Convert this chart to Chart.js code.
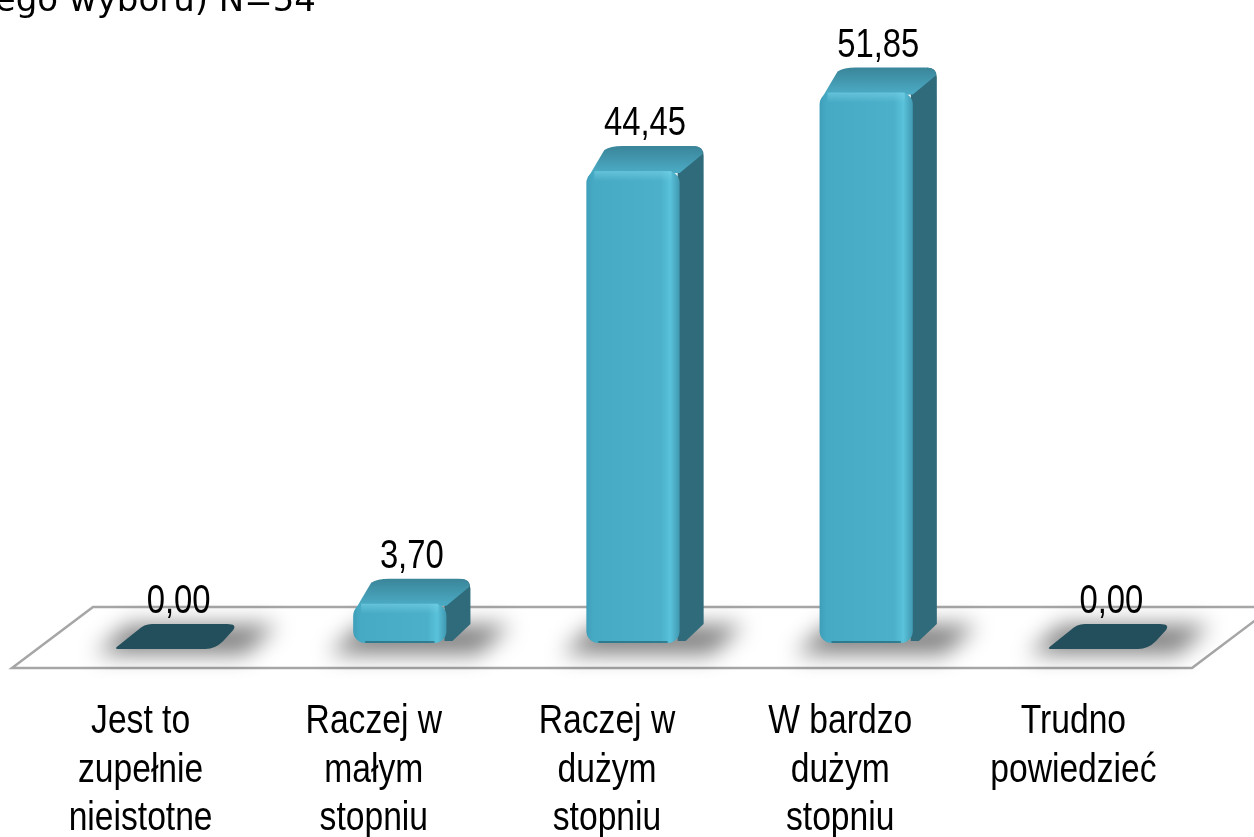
<!DOCTYPE html>
<html><head><meta charset="utf-8">
<script src="https://cdn.jsdelivr.net/npm/chart.js@4/dist/chart.umd.min.js"></script>
<style>html,body{margin:0;padding:0;background:#fff;overflow:hidden}#wrap{width:1254px;height:837px}</style>
</head><body><div id="wrap"><canvas id="c" width="1254" height="837"></canvas></div>
<script>
const categories = [["Jest to","zupełnie","nieistotne"],["Raczej w","małym","stopniu"],["Raczej w","dużym","stopniu"],["W bardzo","dużym","stopniu"],["Trudno","powiedzieć"]];
const values = [0.00, 3.70, 44.45, 51.85, 0.00];
const valueLabels = ["0,00","3,70","44,45","51,85","0,00"];
const titleFragment = "ego wyboru) N=54";
const axisMax = 60;

const FONT = "'Liberation Sans',Arial,sans-serif";
const NARROW_SCALE = 0.82;
const DX = 26, DDX = 24, DDY = -25;

function narrowText(ctx, text, x, y, size) {
  ctx.save();
  ctx.font = size + 'px ' + FONT;
  ctx.textAlign = 'center';
  ctx.textBaseline = 'alphabetic';
  ctx.translate(x, y);
  ctx.scale(NARROW_SCALE, 1);
  ctx.fillText(text, 0, 0);
  ctx.restore();
}

const bar3d = {
  id: 'bar3d',
  beforeDatasetsDraw(chart) {
    const ctx = chart.ctx, ca = chart.chartArea;
    const base = chart.scales.y.getPixelForValue(0);
    const fFront = base + 25, fBack = base - 36, sk = 81;
    const xl = ca.left - 12, xr = ca.right + 2;
    ctx.save();
    ctx.beginPath();
    ctx.moveTo(xl, fFront); ctx.lineTo(xr, fFront); ctx.lineTo(xr + sk, fBack); ctx.lineTo(xl + sk, fBack); ctx.closePath();
    ctx.fillStyle = '#fff'; ctx.fill();
    ctx.strokeStyle = '#a6a6a6'; ctx.lineWidth = 2.5; ctx.stroke();
    const meta = chart.getDatasetMeta(0);
    meta.data.forEach((el) => {
      const w = el.width, l = el.x + DX - w / 2, r = l + w;
      ctx.save();
      ctx.filter = 'blur(11px)';
      ctx.fillStyle = 'rgba(0,0,0,0.5)';
      ctx.beginPath();
      ctx.moveTo(l - 24, base + 11);
      ctx.lineTo(r + 32, base + 11);
      ctx.lineTo(r + 64, base - 18);
      ctx.lineTo(l + 8, base - 18);
      ctx.closePath();
      ctx.fill();
      ctx.restore();
    });
    meta.data.forEach((el, i) => {
      const w = el.width, l = el.x + DX - w / 2, r = l + w;
      const top = el.y, bot = el.base;
      if (values[i] === 0) {
        const y0 = bot + 6;
        ctx.beginPath();
        ctx.moveTo(l - 2, y0); ctx.lineTo(r - 8, y0);
        ctx.quadraticCurveTo(r + 2, y0, r + 10, y0 - 8);
        ctx.lineTo(r + DDX - 4, y0 + DDY + 6);
        ctx.quadraticCurveTo(r + DDX, y0 + DDY, r + DDX - 10, y0 + DDY);
        ctx.lineTo(l + DDX + 8, y0 + DDY);
        ctx.quadraticCurveTo(l + DDX, y0 + DDY, l + DDX - 6, y0 + DDY + 6);
        ctx.lineTo(l - 2, y0 - 3);
        ctx.quadraticCurveTo(l - 6, y0, l - 2, y0);
        ctx.closePath();
        ctx.fillStyle = '#234f5c';
        ctx.fill();
        return;
      }
      ctx.beginPath();
      ctx.moveTo(r - 2, top + 2);
      ctx.lineTo(r + DDX - 10, top + DDY);
      ctx.quadraticCurveTo(r + DDX, top + DDY, r + DDX, top + DDY + 10);
      ctx.lineTo(r + DDX, bot + DDY + 6);
      ctx.lineTo(r + 6, bot - 2);
      ctx.lineTo(r - 2, bot - 2);
      ctx.closePath();
      ctx.fillStyle = '#2f6b7a';
      ctx.fill();
      const gt = ctx.createLinearGradient(0, top + DDY, 0, top);
      gt.addColorStop(0, '#3a8599'); gt.addColorStop(1, '#4aa9c2');
      ctx.beginPath();
      ctx.moveTo(l + 2, top + 6);
      ctx.lineTo(l + DDX - 6, top + DDY + 4);
      ctx.quadraticCurveTo(l + DDX, top + DDY, l + DDX + 12, top + DDY);
      ctx.lineTo(r + DDX - 12, top + DDY);
      ctx.quadraticCurveTo(r + DDX, top + DDY, r + DDX - 1, top + DDY + 8);
      ctx.lineTo(r, top + 2);
      ctx.closePath();
      ctx.fillStyle = gt; ctx.fill();
      const gf = ctx.createLinearGradient(l, 0, r, 0);
      gf.addColorStop(0, '#3e9fb9'); gf.addColorStop(0.08, '#47aac4'); gf.addColorStop(0.8, '#4cb0ca');
      gf.addColorStop(0.9, '#5ac2db'); gf.addColorStop(1, '#3f98b0');
      ctx.beginPath();
      ctx.roundRect(l, top, w, bot - top, Math.min(12, (bot - top) / 2));
      ctx.fillStyle = gf; ctx.fill();
      const gh = ctx.createLinearGradient(0, top, 0, top + 10);
      gh.addColorStop(0, 'rgba(120,210,230,0.6)'); gh.addColorStop(1, 'rgba(120,210,230,0)');
      ctx.fillStyle = gh;
      ctx.fillRect(l + 8, top, w - 16, Math.min(10, bot - top));
      ctx.strokeStyle = 'rgba(30,90,105,0.6)'; ctx.lineWidth = 2;
      ctx.beginPath(); ctx.moveTo(l + 12, bot - 1); ctx.lineTo(r - 12, bot - 1); ctx.stroke();
    });
    ctx.restore();
  },
  afterDatasetsDraw(chart) {
    const ctx = chart.ctx;
    const meta = chart.getDatasetMeta(0);
    const xs = chart.scales.x;
    const base = chart.scales.y.getPixelForValue(0);
    ctx.save();
    ctx.fillStyle = '#000';
    meta.data.forEach((el, i) => {
      const cx = el.x + DX + DDX / 2;
      const ty = (values[i] === 0 ? el.base + 6 : el.y) + DDY - 11;
      narrowText(ctx, valueLabels[i], cx, ty, 40);
    });
    categories.forEach((lines, i) => {
      const cx = xs.getPixelForTick(i);
      lines.forEach((ln, k) => narrowText(ctx, ln, cx, base + 90 + k * 48.5, 41));
    });
    ctx.font = '34px "DejaVu Sans", sans-serif';
    ctx.textAlign = 'right';
    ctx.textBaseline = 'alphabetic';
    ctx.fillText(titleFragment, 316, 11);
    ctx.restore();
  }
};

new Chart(document.getElementById('c'), {
  type: 'bar',
  data: {
    labels: categories,
    datasets: [{ data: values, backgroundColor: 'rgba(0,0,0,0)', borderWidth: 0, categoryPercentage: 1, barPercentage: 0.40 }]
  },
  options: {
    responsive: false, animation: false, devicePixelRatio: 1,
    layout: { padding: { top: 6, left: 24, right: 64, bottom: 194 } },
    plugins: { legend: { display: false }, tooltip: { enabled: false } },
    scales: {
      x: { display: false },
      y: { display: false, min: 0, max: axisMax }
    }
  },
  plugins: [bar3d]
});
</script>
</body></html>
